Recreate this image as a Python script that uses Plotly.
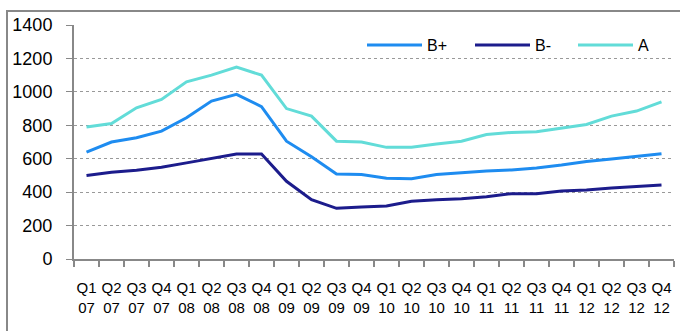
import plotly.graph_objects as go

quarters = ["Q1<br>07", "Q2<br>07", "Q3<br>07", "Q4<br>07",
            "Q1<br>08", "Q2<br>08", "Q3<br>08", "Q4<br>08",
            "Q1<br>09", "Q2<br>09", "Q3<br>09", "Q4<br>09",
            "Q1<br>10", "Q2<br>10", "Q3<br>10", "Q4<br>10",
            "Q1<br>11", "Q2<br>11", "Q3<br>11", "Q4<br>11",
            "Q1<br>12", "Q2<br>12", "Q3<br>12", "Q4<br>12"]

b_plus = [640, 700, 725, 765, 845, 945, 985, 912, 705, 612, 508, 505,
          483, 480, 505, 517, 527, 533, 545, 562, 583, 598, 612, 630]
b_minus = [500, 519, 531, 549, 575, 600, 628, 628, 465, 355, 303, 311,
           317, 345, 355, 360, 372, 391, 391, 407, 413, 425, 435, 443]
a_vals = [790, 810, 905, 955, 1060, 1100, 1148, 1100, 900, 855, 705, 700,
          668, 668, 688, 705, 745, 757, 762, 782, 805, 855, 885, 940]

y_ticks = [0, 200, 400, 600, 800, 1000, 1200, 1400]

series = [("B+", b_plus, "#1E8CF0", "legend", 362),
          ("B-", b_minus, "#1C1C8C", "legend2", 470),
          ("A", a_vals, "#62DCD8", "legend3", 573)]

L, R, T, B = 74, 6, 25, 72
W, H = 680, 331
pw, ph = W - L - R, H - T - B

fig = go.Figure()
legends = {}
for name, vals, col, lg, lx in series:
    fig.add_trace(go.Scatter(x=quarters, y=vals, name=name, mode="lines",
                             line=dict(color=col, width=3), legend=lg))
    legends[lg] = dict(orientation="h", x=(lx - L) / pw, xanchor="left",
                       y=(H - B - 45) / ph, yanchor="middle",
                       font=dict(size=16), itemwidth=55,
                       bgcolor="rgba(0,0,0,0)")

fig.update_layout(
    width=W, height=H,
    margin=dict(l=L, r=R, t=T, b=B),
    paper_bgcolor="white", plot_bgcolor="white",
    font=dict(family="Liberation Sans, Arial, sans-serif", color="black"),
    showlegend=True,
    xaxis=dict(type="category", range=[-0.5, 23.5], showgrid=False,
               showline=True, linecolor="#888888", linewidth=2,
               ticks="outside", tickson="boundaries", ticklen=6,
               tickcolor="#888888", tickwidth=1.5,
               tickfont=dict(size=15), tickangle=0, ticklabelstandoff=14),
    yaxis=dict(range=[0, 1400], tickvals=y_ticks, showgrid=True,
               gridcolor="#999999", griddash="dot", gridwidth=1,
               showline=True, linecolor="#888888", linewidth=2,
               ticks="outside", ticklen=6, tickcolor="#888888",
               tickfont=dict(size=18), ticklabelstandoff=10,
               zeroline=False),
    shapes=[dict(type="rect", xref="paper", yref="paper",
                 x0=(7 - L) / pw, x1=(W + 5 - L) / pw,
                 y0=(H - B - (H + 10)) / ph, y1=(H - B - 11) / ph,
                 line=dict(color="#888888", width=2), layer="below")],
)
fig.update_layout(**legends)

fig.write_html("out.html", config={"displayModeBar": False},
               post_script="document.body.style.margin='0';document.body.style.overflow='hidden';")
